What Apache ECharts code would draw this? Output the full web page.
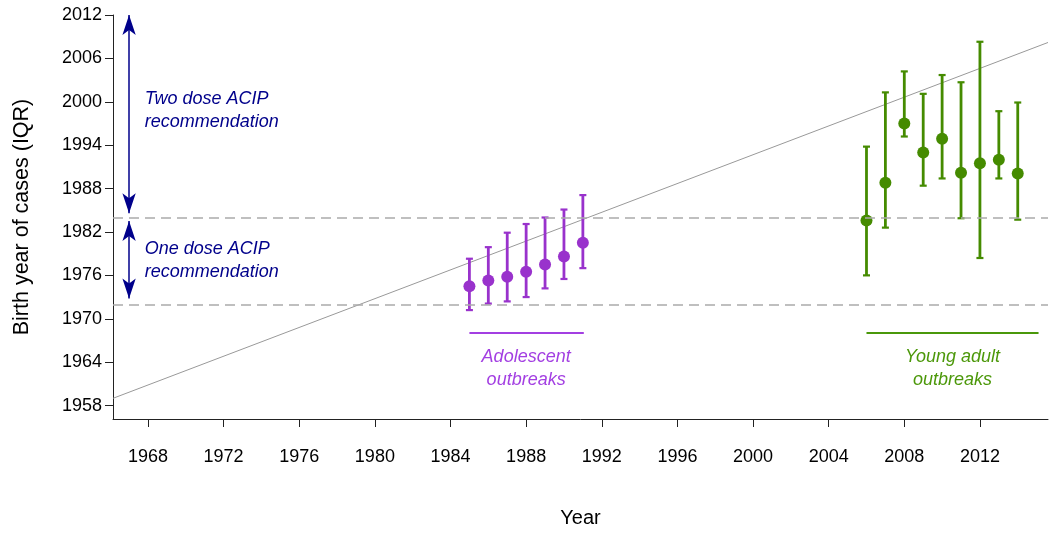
<!DOCTYPE html>
<html>
<head>
<meta charset="utf-8">
<script src="https://cdn.jsdelivr.net/npm/echarts@6/dist/echarts.min.js"></script>
<style>
  html, body { margin: 0; padding: 0; background: #fff; }
  #chart { width: 1050px; height: 533px; }
</style>
</head>
<body>
<div id="chart"></div>
<script>
// adolescent outbreaks (1985-1991)
var adolYears = [1985, 1986, 1987, 1988, 1989, 1990, 1991];
var adolMed = [1974.5, 1975.3, 1975.8, 1976.5, 1977.5, 1978.6, 1980.5];
var adolLo = [1971.2, 1972.1, 1972.4, 1973.0, 1974.2, 1975.5, 1977.0];
var adolHi = [1978.3, 1979.9, 1981.9, 1983.1, 1984.0, 1985.1, 1987.1];

// young adult outbreaks (2006-2014)
var youngYears = [2006, 2007, 2008, 2009, 2010, 2011, 2012, 2013, 2014];
var youngMed = [1983.6, 1988.8, 1997.0, 1993.0, 1994.9, 1990.2, 1991.5, 1992.0, 1990.1];
var youngLo = [1976.0, 1982.6, 1995.2, 1988.4, 1989.4, 1983.9, 1978.4, 1989.4, 1983.7];
var youngHi = [1993.8, 2001.3, 2004.2, 2001.1, 2003.7, 2002.7, 2008.3, 1998.7, 1999.9];

// trend line end points
var trendX = [1966.15, 2015.6];
var trendY = [1959.0, 2008.2];

// ACIP recommendation years (dashed lines)
var acipYears = [1972, 1984];

var xTicks = [1968, 1972, 1976, 1980, 1984, 1988, 1992, 1996, 2000, 2004, 2008, 2012];
var yTicks = [1958, 1964, 1970, 1976, 1982, 1988, 1994, 2000, 2006, 2012];

var purple = '#9932CC';
var purpleText = '#A33FE2';
var green = '#458B00';
var greenText = '#4C980A';
var navy = '#00008B';
var font = 'Liberation Sans, Arial, sans-serif';

var myChart = echarts.init(document.getElementById('chart'));

function errBars(years, lo, hi) {
    var d = [];
    for (var i = 0; i < years.length; i++) d.push([years[i], lo[i], hi[i]]);
    return d;
}
function pts(xs, ys) {
    var d = [];
    for (var i = 0; i < xs.length; i++) d.push([xs[i], ys[i]]);
    return d;
}
function makeRender(color) {
    return function (params, api) {
        var x = api.value(0);
        var a = api.coord([x, api.value(2)]);
        var b = api.coord([x, api.value(1)]);
        var w = 3.5;
        return {
            type: 'group',
            children: [
                { type: 'line', shape: { x1: a[0], y1: a[1], x2: b[0], y2: b[1] }, style: { stroke: color, lineWidth: 2.8 } },
                { type: 'line', shape: { x1: a[0] - w, y1: a[1], x2: a[0] + w, y2: a[1] }, style: { stroke: color, lineWidth: 2.2 } },
                { type: 'line', shape: { x1: b[0] - w, y1: b[1], x2: b[0] + w, y2: b[1] }, style: { stroke: color, lineWidth: 2.2 } }
            ]
        };
    };
}
function textLabel(x, y, txt, color, align) {
    return {
        type: 'scatter',
        silent: true,
        symbolSize: 0,
        itemStyle: { opacity: 1 },
        data: [[x, y]],
        label: {
            show: true,
            position: 'inside',
            formatter: txt,
            color: color,
            fontStyle: 'italic',
            fontSize: 18,
            fontFamily: font,
            lineHeight: 23,
            align: align,
            verticalAlign: 'middle'
        }
    };
}
function plain(v) { return String(v); }

var option = {
    animation: false,
    grid: { left: 113, right: 2, top: 15, bottom: 113 },
    xAxis: {
        type: 'value',
        min: 1966.15,
        max: 2015.6,
        name: 'Year',
        nameLocation: 'middle',
        nameGap: 89,
        nameTextStyle: { fontSize: 20, fontFamily: font, color: '#000' },
        splitLine: { show: false },
        axisLine: { show: true, lineStyle: { color: '#222', width: 1 } },
        axisTick: { show: true, customValues: xTicks, length: 8, lineStyle: { color: '#222' } },
        axisLabel: { customValues: xTicks, formatter: plain, fontSize: 18, margin: 29, fontFamily: font, color: '#000' }
    },
    yAxis: {
        type: 'value',
        min: 1956.14,
        max: 2012,
        name: 'Birth year of cases (IQR)',
        nameLocation: 'middle',
        nameGap: 80,
        nameTextStyle: { fontSize: 21.5, fontFamily: font, color: '#000' },
        splitLine: { show: false },
        axisLine: { show: true, lineStyle: { color: '#222', width: 1 } },
        axisTick: { show: true, customValues: yTicks, length: 8, lineStyle: { color: '#222' } },
        axisLabel: { customValues: yTicks, formatter: plain, fontSize: 18, margin: 11, fontFamily: font, color: '#000' }
    },
    series: [
        {
            type: 'line',
            silent: true,
            symbol: 'none',
            data: pts(trendX, trendY),
            lineStyle: { color: '#999', width: 1 },
            markLine: {
                silent: true,
                symbol: 'none',
                label: { show: false },
                lineStyle: { color: '#aaa', type: [10, 6], width: 1.5 },
                data: acipYears.map(function (v) { return { yAxis: v }; })
            },
            z: 1
        },
        {
            // ACIP arrows
            type: 'line',
            silent: true,
            symbol: 'none',
            data: [],
            markLine: {
                silent: true,
                symbol: ['arrow', 'arrow'],
                symbolSize: [10, 20],
                label: { show: false },
                lineStyle: { color: navy, type: 'solid', width: 1.5 },
                data: [
                    [{ coord: [1967, 2012] }, { coord: [1967, 1984.6] }],
                    [{ coord: [1967, 1983.5] }, { coord: [1967, 1972.8] }]
                ]
            }
        },
        {
            // outbreak group segments
            type: 'line',
            silent: true,
            symbol: 'none',
            data: [],
            markLine: {
                silent: true,
                symbol: 'none',
                label: { show: false },
                data: [
                    [{ coord: [1985, 1968], lineStyle: { color: purpleText, width: 2, type: 'solid' } }, { coord: [1991.05, 1968] }],
                    [{ coord: [2006, 1968], lineStyle: { color: '#4A980A', width: 2, type: 'solid' } }, { coord: [2015.1, 1968] }]
                ]
            }
        },
        {
            type: 'custom',
            renderItem: makeRender(purple),
            data: errBars(adolYears, adolLo, adolHi),
            z: 3
        },
        {
            type: 'custom',
            renderItem: makeRender(green),
            data: errBars(youngYears, youngLo, youngHi),
            z: 3
        },
        {
            type: 'scatter',
            symbolSize: 12,
            itemStyle: { color: purple, opacity: 1 },
            data: pts(adolYears, adolMed),
            z: 4
        },
        {
            type: 'scatter',
            symbolSize: 12,
            itemStyle: { color: green, opacity: 1 },
            data: pts(youngYears, youngMed),
            z: 4
        },
        textLabel(1967.83, 1998.76, 'Two dose ACIP\nrecommendation', navy, 'left'),
        textLabel(1967.83, 1978.0, 'One dose ACIP\nrecommendation', navy, 'left'),
        textLabel(1988.0, 1963.1, 'Adolescent\noutbreaks', purpleText, 'center'),
        textLabel(2010.55, 1963.1, 'Young adult\noutbreaks', greenText, 'center')
    ]
};

myChart.setOption(option);
</script>
</body>
</html>
